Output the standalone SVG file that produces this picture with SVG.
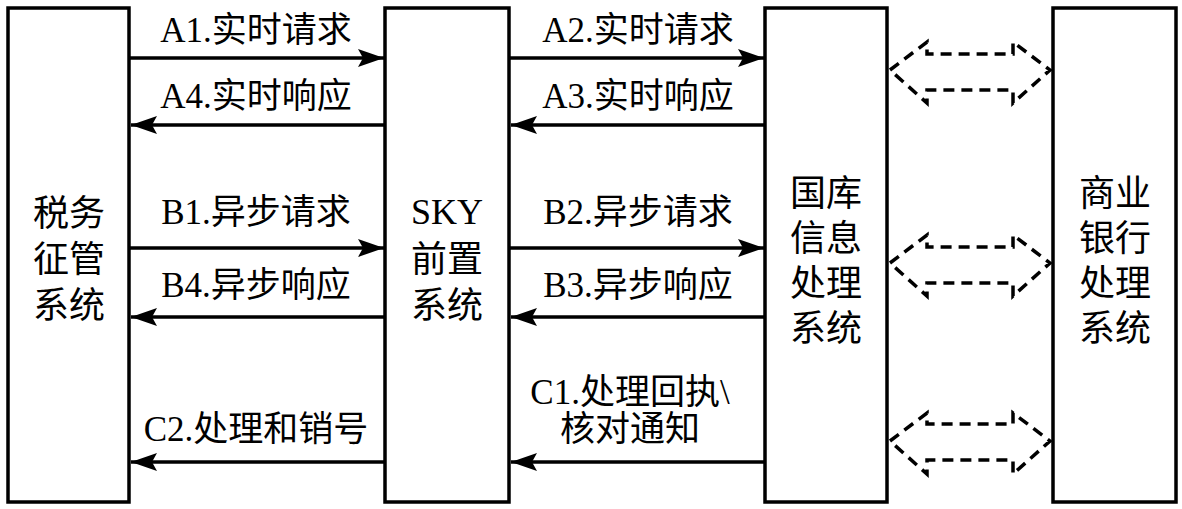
<svg xmlns="http://www.w3.org/2000/svg" width="1182" height="509" viewBox="0 0 1182 509">
<style>
.box{fill:#fff;stroke:#000;stroke-width:3.5}
.bt{font-family:"Liberation Serif","Noto Sans CJK SC",serif;font-size:36px;text-anchor:middle;fill:#000}
.lb{font-family:"Liberation Serif","Noto Sans CJK SC",serif;font-size:35px;text-anchor:middle;fill:#000}
.ln{stroke:#000;stroke-width:3.5;fill:none}
.dash{fill:none;stroke:#000;stroke-width:3.5;stroke-dasharray:11 7}
</style>
<defs>
<marker id="ah" markerUnits="userSpaceOnUse" markerWidth="28" markerHeight="22" refX="26" refY="10" orient="auto" viewBox="0 0 28 20">
<path d="M0,1 L26,10 L0,19 L5,10 Z" fill="#000"/>
</marker>
</defs>
<rect width="1182" height="509" fill="#fff"/>
<g id="node-tax">
<rect class="box" x="8" y="8" width="121" height="494"/>
<text class="bt" x="69" y="226">税务</text>
<text class="bt" x="69" y="272">征管</text>
<text class="bt" x="69" y="318">系统</text>
</g>
<g id="node-sky">
<rect class="box" x="385" y="8" width="124" height="494"/>
<text class="bt" x="447" y="224">SKY</text>
<text class="bt" x="447" y="272">前置</text>
<text class="bt" x="447" y="318">系统</text>
</g>
<g id="node-treasury">
<rect class="box" x="765" y="8" width="122" height="494"/>
<text class="bt" x="826" y="206">国库</text>
<text class="bt" x="826" y="251">信息</text>
<text class="bt" x="826" y="296">处理</text>
<text class="bt" x="826" y="341">系统</text>
</g>
<g id="node-bank">
<rect class="box" x="1053" y="8" width="123" height="494"/>
<text class="bt" x="1115" y="206">商业</text>
<text class="bt" x="1115" y="251">银行</text>
<text class="bt" x="1115" y="296">处理</text>
<text class="bt" x="1115" y="341">系统</text>
</g>
<g id="connectors">
<line class="ln" x1="130" y1="58" x2="384" y2="58" marker-end="url(#ah)"/>
<line class="ln" x1="384" y1="125" x2="131" y2="125" marker-end="url(#ah)"/>
<line class="ln" x1="510" y1="58" x2="764" y2="58" marker-end="url(#ah)"/>
<line class="ln" x1="764" y1="125" x2="511" y2="125" marker-end="url(#ah)"/>
<line class="ln" x1="130" y1="248" x2="384" y2="248" marker-end="url(#ah)"/>
<line class="ln" x1="384" y1="317" x2="131" y2="317" marker-end="url(#ah)"/>
<line class="ln" x1="510" y1="248" x2="764" y2="248" marker-end="url(#ah)"/>
<line class="ln" x1="764" y1="317" x2="511" y2="317" marker-end="url(#ah)"/>
<line class="ln" x1="764" y1="462" x2="511" y2="462" marker-end="url(#ah)"/>
<line class="ln" x1="384" y1="462" x2="131" y2="462" marker-end="url(#ah)"/>
<polygon class="dash" points="890,70 927,42 927,54 1013,54 1013,42 1050,70 1013,103 1013,90 927,90 927,103"/>
<polygon class="dash" points="890,263 927,235 927,247 1013,247 1013,235 1050,263 1013,296 1013,283 927,283 927,296"/>
<polygon class="dash" points="890,441 927,413 927,424 1013,424 1013,413 1050,441 1013,474 1013,460 927,460 927,474"/>
<text class="lb" x="256" y="42">A1.实时请求</text>
<text class="lb" x="256" y="108">A4.实时响应</text>
<text class="lb" x="638" y="42">A2.实时请求</text>
<text class="lb" x="638" y="108">A3.实时响应</text>
<text class="lb" x="256" y="224">B1.异步请求</text>
<text class="lb" x="256" y="297">B4.异步响应</text>
<text class="lb" x="638" y="224">B2.异步请求</text>
<text class="lb" x="638" y="297">B3.异步响应</text>
<text class="lb" x="630" y="404">C1.处理回执\</text>
<text class="lb" x="630" y="441">核对通知</text>
<text class="lb" x="256" y="441">C2.处理和销号</text>
</g>
</svg>
